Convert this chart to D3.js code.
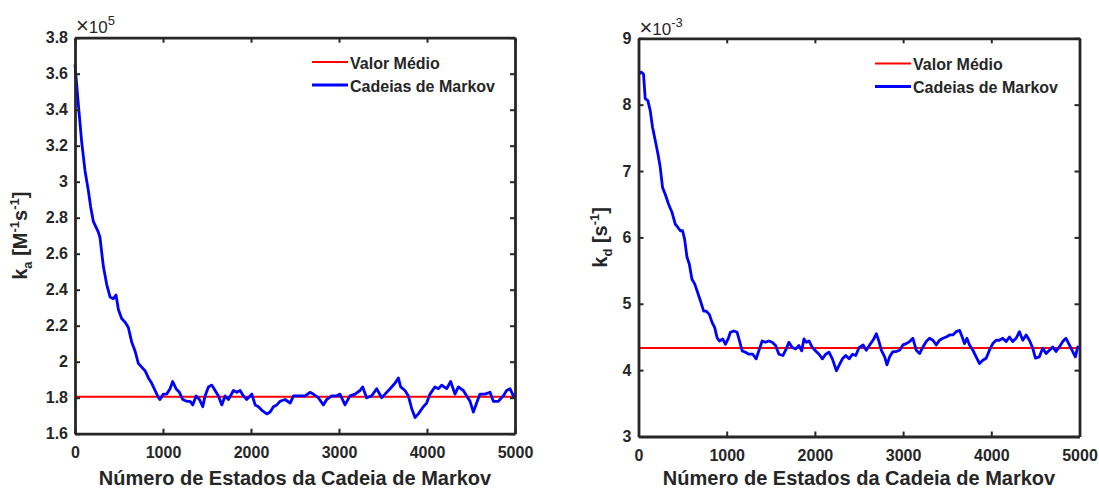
<!DOCTYPE html>
<html><head><meta charset="utf-8">
<script src="https://cdn.jsdelivr.net/npm/d3@7"></script>
<style>
body{margin:0;background:#fff}
text{font-family:"Liberation Sans",Arial,Helvetica,sans-serif;}
</style>
</head><body>
<svg id="c" width="1099" height="489"></svg>
<script>
// ---------------- data ----------------
const xTicks = [0, 1000, 2000, 3000, 4000, 5000];
const kaTicks = [1.6, 1.8, 2, 2.2, 2.4, 2.6, 2.8, 3, 3.2, 3.4, 3.6, 3.8];
const kdTicks = [3, 4, 5, 6, 7, 8, 9];
const legendLabels = ["Valor Médio", "Cadeias de Markov"];
const xTitle = "Número de Estados da Cadeia de Markov";

// k_a chain (x 10^5)
const kaSteps = [0,38,76,114,152,178,208,265,284,322,360,398,436,466,493,530,568,606,644,682,720,758,796,834,872,910,948,966,1004,1042,1080,1110,1148,1186,1224,1270,1308,1338,1376,1414,1452,1478,1516,1554,1592,1630,1668,1706,1744,1800,1838,1876,1914,1952,2009,2047,2085,2123,2180,2217,2255,2293,2331,2388,2445,2483,2557,2614,2670,2708,2765,2822,2860,2917,2973,3011,3068,3125,3182,3239,3269,3314,3371,3428,3485,3523,3580,3636,3674,3701,3750,3788,3826,3864,3902,3958,3996,4034,4091,4129,4167,4223,4269,4318,4356,4413,4451,4489,4527,4564,4602,4659,4716,4754,4811,4867,4905,4943,4981,5000];
const kaValues = [3.65,3.43,3.22,3.06,2.95,2.86,2.78,2.72,2.69,2.53,2.43,2.36,2.35,2.37,2.29,2.24,2.22,2.19,2.11,2.06,1.99,1.97,1.95,1.91,1.88,1.84,1.80,1.79,1.82,1.82,1.85,1.89,1.85,1.83,1.79,1.78,1.78,1.76,1.81,1.79,1.75,1.81,1.86,1.87,1.84,1.81,1.76,1.81,1.79,1.84,1.83,1.84,1.81,1.79,1.82,1.76,1.75,1.73,1.71,1.72,1.75,1.76,1.78,1.79,1.77,1.81,1.81,1.81,1.83,1.82,1.80,1.76,1.79,1.81,1.81,1.82,1.76,1.81,1.82,1.84,1.86,1.80,1.81,1.85,1.80,1.82,1.85,1.88,1.91,1.86,1.84,1.81,1.74,1.69,1.71,1.75,1.77,1.82,1.86,1.85,1.87,1.85,1.89,1.82,1.86,1.84,1.81,1.78,1.72,1.77,1.82,1.82,1.83,1.78,1.78,1.81,1.84,1.85,1.81,1.82];
const kaMean = 1.805;

// k_d chain (x 10^-3)
const kdSteps = [0,30,57,76,106,133,159,190,220,246,273,303,341,379,417,447,474,500,523,550,576,606,637,663,701,739,766,803,834,864,891,917,955,985,1016,1042,1080,1118,1145,1175,1213,1251,1296,1334,1364,1402,1440,1478,1516,1554,1592,1637,1675,1705,1743,1781,1819,1850,1876,1903,1933,1971,2009,2047,2085,2122,2160,2198,2244,2274,2312,2350,2388,2426,2463,2501,2546,2583,2621,2659,2697,2727,2753,2791,2817,2847,2885,2923,2960,2998,3036,3074,3111,3149,3187,3225,3262,3300,3338,3376,3413,3451,3489,3527,3564,3602,3640,3670,3696,3723,3753,3791,3828,3866,3904,3942,3979,4017,4055,4093,4130,4168,4206,4244,4281,4319,4357,4395,4432,4470,4500,4545,4583,4621,4659,4696,4734,4772,4810,4847,4885,4923,4953,4980,5000];
const kdValues = [8.46,8.49,8.46,8.09,8.06,7.91,7.66,7.46,7.26,7.06,6.75,6.65,6.50,6.38,6.20,6.15,6.10,6.10,5.97,5.70,5.60,5.37,5.30,5.20,5.05,4.89,4.89,4.84,4.72,4.64,4.49,4.44,4.47,4.39,4.47,4.57,4.59,4.57,4.44,4.29,4.27,4.24,4.24,4.17,4.29,4.44,4.42,4.44,4.42,4.37,4.24,4.22,4.32,4.42,4.34,4.32,4.37,4.29,4.47,4.42,4.44,4.34,4.29,4.24,4.17,4.24,4.27,4.17,3.99,4.07,4.17,4.22,4.17,4.24,4.22,4.34,4.38,4.30,4.38,4.45,4.55,4.43,4.30,4.20,4.08,4.20,4.28,4.28,4.30,4.38,4.40,4.43,4.48,4.30,4.25,4.35,4.43,4.48,4.45,4.38,4.45,4.48,4.50,4.53,4.53,4.58,4.60,4.50,4.40,4.48,4.38,4.30,4.20,4.10,4.15,4.18,4.30,4.40,4.45,4.45,4.48,4.43,4.50,4.43,4.48,4.58,4.45,4.53,4.45,4.33,4.18,4.20,4.33,4.25,4.30,4.35,4.28,4.35,4.43,4.48,4.38,4.28,4.20,4.35,4.33];
const kdMean = 4.335;

// ---------------- drawing ----------------
const svg = d3.select("#c");
const INK = "#262626";

function panel(o) {
  const x = d3.scaleLinear().domain([0, 5000]).range([o.x0, o.x1]);
  const y = d3.scaleLinear().domain(o.domain).range([o.yb, o.yt]);
  const g = svg.append("g");

  // mean line
  g.append("line")
    .attr("x1", x(0)).attr("x2", x(5000))
    .attr("y1", y(o.mean)).attr("y2", y(o.mean))
    .attr("stroke", "#ff0000").attr("stroke-width", 2);

  // chain
  const line = d3.line().x((d, i) => x(o.steps[i])).y(d => y(d));
  g.append("path").datum(o.values)
    .attr("d", line).attr("fill", "none")
    .attr("stroke", "#0000ff").attr("stroke-width", 2.8)
    .attr("stroke-linejoin", "round");

  // axes
  const styleAxis = (sel) => {
    sel.select(".domain").attr("stroke", INK).attr("stroke-width", 2.8);
    sel.selectAll(".tick line").attr("stroke", INK).attr("stroke-width", 2);
    sel.selectAll(".tick text").attr("fill", INK)
      .style("font-size", "16px").style("font-weight", "bold");
  };
  g.append("g").attr("transform", `translate(0,${o.yb})`)
    .call(d3.axisBottom(x).tickValues(xTicks).tickSizeInner(-5).tickSizeOuter(0).tickPadding(13).tickFormat(d3.format("d")))
    .call(styleAxis);
  g.append("g").attr("transform", `translate(0,${o.yt})`)
    .call(d3.axisTop(x).tickValues(xTicks).tickSizeInner(-5).tickSizeOuter(0).tickFormat(""))
    .call(styleAxis);
  g.append("g").attr("transform", `translate(${o.x0},0)`)
    .call(d3.axisLeft(y).tickValues(o.ticks).tickSizeInner(-5).tickSizeOuter(0).tickPadding(7).tickFormat(d => String(+d.toFixed(1))))
    .call(styleAxis);
  g.append("g").attr("transform", `translate(${o.x1},0)`)
    .call(d3.axisRight(y).tickValues(o.ticks).tickSizeInner(-5).tickSizeOuter(0).tickFormat(""))
    .call(styleAxis);

  // exponent
  const ex = g.append("text").attr("x", o.x0 + 1).attr("y", o.expY)
    .attr("fill", INK).style("font-size", "17px");
  ex.append("tspan").style("font-size", "22px").text("×");
  ex.append("tspan").text("10");
  ex.append("tspan").attr("dy", -8).style("font-size", "13px").text(o.exp);

  // x title
  g.append("text").attr("x", (o.x0 + o.x1) / 2).attr("y", 485)
    .attr("text-anchor", "middle").attr("fill", INK)
    .style("font-size", "20px").style("font-weight", "bold").text(xTitle);

  // y title
  const yt = g.append("text")
    .attr("transform", `translate(${o.ylx},${(o.yt + o.yb) / 2}) rotate(-90)`)
    .attr("text-anchor", "middle").attr("fill", INK)
    .style("font-size", "20px").style("font-weight", "bold");
  o.ylabel.forEach(p => {
    const t = yt.append("tspan").text(p.t);
    if (p.dy) t.attr("dy", p.dy);
    if (p.fs) t.style("font-size", p.fs);
  });

  // legend
  const colors = ["#ff0000", "#0000ff"];
  legendLabels.forEach((lab, i) => {
    const ly = o.legY + i * 23;
    g.append("line").attr("x1", o.legX).attr("x2", o.legX + 36)
      .attr("y1", ly).attr("y2", ly)
      .attr("stroke", colors[i]).attr("stroke-width", i ? 2.8 : 2);
    g.append("text").attr("x", o.legX + 38).attr("y", ly + 6.5)
      .attr("fill", INK).style("font-size", "16px").style("font-weight", "bold")
      .text(lab);
  });
}

panel({
  x0: 75, x1: 515, yt: 37.7, yb: 433.7, domain: [1.6, 3.8], ticks: kaTicks,
  steps: kaSteps, values: kaValues, mean: kaMean,
  exp: "5", expY: 33, ylx: 27, legX: 312, legY: 62,
  ylabel: [{t: "k"}, {t: "a", dy: 5, fs: "13px"}, {t: " [M", dy: -5}, {t: "-1", dy: -8, fs: "13px"},
           {t: "s", dy: 8}, {t: "-1", dy: -8, fs: "13px"}, {t: "]", dy: 8}]
});
panel({
  x0: 638.5, x1: 1079.5, yt: 38.3, yb: 436.5, domain: [3, 9], ticks: kdTicks,
  steps: kdSteps, values: kdValues, mean: kdMean,
  exp: "-3", expY: 35, ylx: 607, legX: 875, legY: 63.5,
  ylabel: [{t: "k"}, {t: "d", dy: 5, fs: "13px"}, {t: " [s", dy: -5}, {t: "-1", dy: -8, fs: "13px"}, {t: "]", dy: 8}]
});
</script>
</body></html>
